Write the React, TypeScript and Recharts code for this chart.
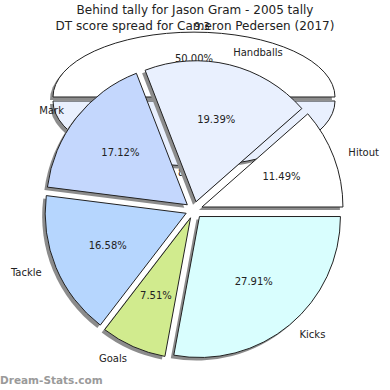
import { PieChart, Pie, Cell } from "recharts";

const titleLines = [
  "Behind tally for Jason Gram - 2005 tally",
  "DT score spread for Cameron Pedersen (2017)",
];

// main pie: DT score spread
const statNames = ["Hitout", "Handballs", "Mark", "Tackle", "Goals", "Kicks"];
const statShares = [11.49, 19.39, 17.12, 16.58, 7.51, 27.91];
const statColors = ["#ffffff", "#e9f0fe", "#c4d7fd", "#b6d6fe", "#d1eb8e", "#d9fefe"];

// pie behind: behind tally
const behindNames = ["9.3", "8.3"];
const behindShares = [50, 50];
const behindColors = ["#ffffff", "#e9f0fe"];

const statData = statNames.map((name, i) => ({ name, value: statShares[i] }));
const behindData = behindNames.map((name, i) => ({ name, value: behindShares[i] }));

const RAD = Math.PI / 180;
const FONT = "DejaVu Sans, Verdana, sans-serif";
const SQUASH = 0.46;
const SHADOW = "#8c8c8c";

// offset a slice outwards along its middle angle
const explode = (shares: number[], i: number, dist: number) => {
  const total = shares.reduce((a, b) => a + b, 0);
  const before = shares.slice(0, i).reduce((a, b) => a + b, 0);
  const mid = ((before + shares[i] / 2) / total) * 360 * RAD;
  return `translate(${(dist * Math.cos(mid)).toFixed(2)} ${(-dist * Math.sin(mid)).toFixed(2)})`;
};

const makeLabel =
  (nameRx: number, nameRy: number, pctRx: number, pctRy: number) => (p: any) => {
    const cos = Math.cos(-p.midAngle * RAD);
    const sin = Math.sin(-p.midAngle * RAD);
    return (
      <g fontFamily={FONT} fontSize={10} fill="#222">
        <text
          x={p.cx + cos * nameRx}
          y={p.cy + sin * nameRy}
          textAnchor={cos >= 0 ? "start" : "end"}
          dominantBaseline="central"
        >
          {p.name}
        </text>
        <text
          x={p.cx + cos * pctRx}
          y={p.cy + sin * pctRy}
          textAnchor="middle"
          dominantBaseline="central"
        >
          {`${(p.percent * 100).toFixed(2)}%`}
        </text>
      </g>
    );
  };

const CX = 194;
const CY = 210;
const R = 141;
const BCY = 99;
const squash = `translate(0 ${BCY}) scale(1 ${SQUASH}) translate(0 ${-BCY})`;

const layer: React.CSSProperties = { position: "absolute", left: 0, top: 0 };

export default function App() {
  return (
    <div style={{ position: "absolute", left: 0, top: 0, width: 390, height: 390, background: "#fff" }}>
      <style>{`.recharts-sector{vector-effect:non-scaling-stroke}`}</style>

      {/* the 2005 behind tally, flattened, sits underneath */}
      <div style={layer}>
        <PieChart width={390} height={390} margin={{ top: 0, right: 0, bottom: 0, left: 0 }}>
          <Pie
            data={behindData}
            dataKey="value"
            cx={CX}
            cy={BCY}
            outerRadius={R}
            startAngle={0}
            endAngle={360}
            isAnimationActive={false}
            labelLine={false}
          >
            {behindData.map((d, i) => (
              <Cell
                key={d.name}
                fill={SHADOW}
                stroke="none"
                transform={`translate(-3 3) ${squash} ${explode(behindShares, i, 2 / SQUASH)}`}
              />
            ))}
          </Pie>
          <Pie
            data={behindData}
            dataKey="value"
            nameKey="name"
            cx={CX}
            cy={BCY}
            outerRadius={R}
            startAngle={0}
            endAngle={360}
            isAnimationActive={false}
            labelLine={false}
            label={makeLabel(165, 73, 85, 41)}
          >
            {behindData.map((d, i) => (
              <Cell
                key={d.name}
                fill={behindColors[i]}
                stroke="#222"
                strokeWidth={1}
                transform={`${squash} ${explode(behindShares, i, 2 / SQUASH)}`}
              />
            ))}
          </Pie>
          <text x={195} y={10} textAnchor="middle" dominantBaseline="central" fontFamily={FONT} fontSize={12} fill="#222">
            {titleLines[0]}
          </text>
          <text x={195} y={26} textAnchor="middle" dominantBaseline="central" fontFamily={FONT} fontSize={12} fill="#222">
            {titleLines[1]}
          </text>
        </PieChart>
      </div>

      {/* the 2017 DT score spread on top */}
      <div style={layer}>
        <PieChart width={390} height={390} margin={{ top: 0, right: 0, bottom: 0, left: 0 }}>
          <Pie
            data={statData}
            dataKey="value"
            cx={CX}
            cy={CY}
            outerRadius={R}
            startAngle={0}
            endAngle={360}
            isAnimationActive={false}
            labelLine={false}
          >
            {statData.map((d, i) => (
              <Cell
                key={d.name}
                fill={SHADOW}
                stroke="none"
                transform={`translate(-3 3) ${explode(statShares, i, 8.5)}`}
              />
            ))}
          </Pie>
          <Pie
            data={statData}
            dataKey="value"
            nameKey="name"
            cx={CX}
            cy={CY}
            outerRadius={R}
            startAngle={0}
            endAngle={360}
            isAnimationActive={false}
            labelLine={false}
            label={makeLabel(165, 162, 93.5, 93.5)}
          >
            {statData.map((d, i) => (
              <Cell
                key={d.name}
                fill={statColors[i]}
                stroke="#222"
                strokeWidth={1}
                transform={explode(statShares, i, 8.5)}
              />
            ))}
          </Pie>
          <text x={0} y={380} dominantBaseline="central" fontFamily={FONT} fontSize={10.5} fontWeight="bold" fill="#9a9a9a">
            Dream-Stats.com
          </text>
        </PieChart>
      </div>
    </div>
  );
}
